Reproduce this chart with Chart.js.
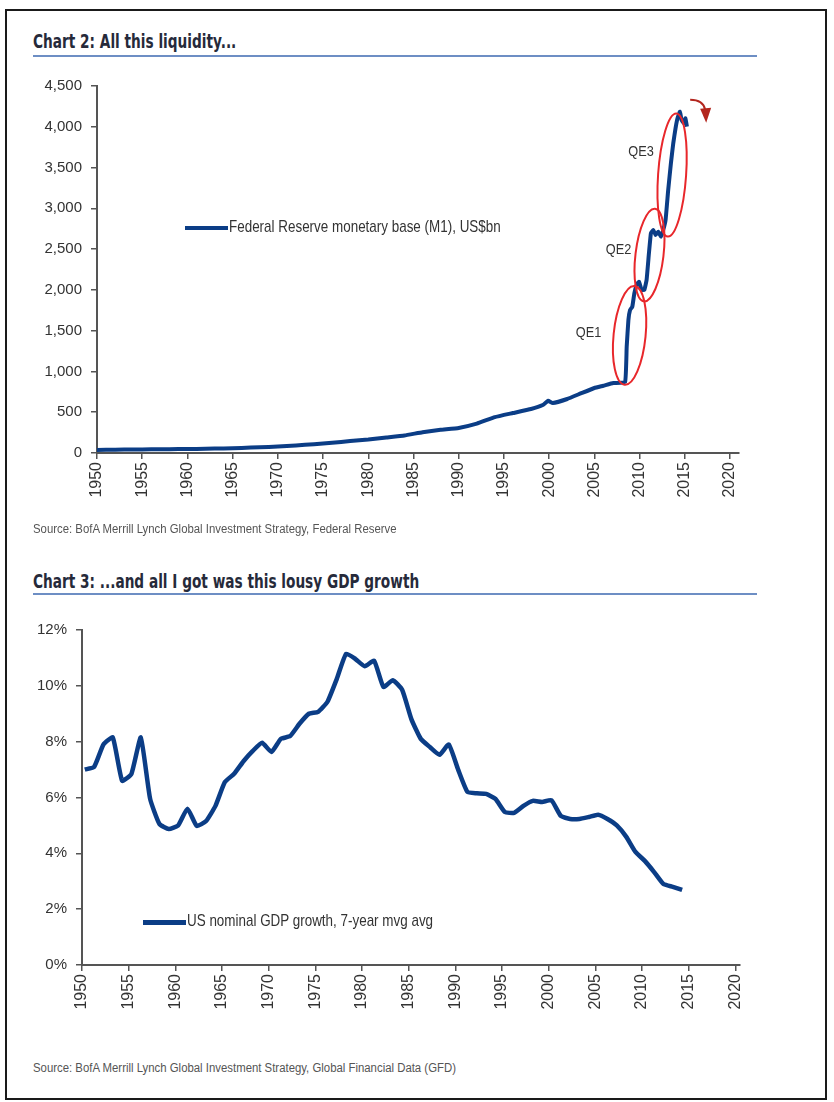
<!DOCTYPE html>
<html>
<head>
<meta charset="utf-8">
<script src="https://cdn.jsdelivr.net/npm/chart.js@4"></script>
<style>
  body { margin: 0; background: #fff; }
  #page { position: relative; width: 834px; height: 1102px; overflow: hidden; background: #fff; }
  .frame { position: absolute; left: 5px; top: 9px; width: 822px; height: 1091px; box-sizing: border-box; border: 2px solid #1a1a1a; }
  .title { position: absolute; left: 33px; font-family: "DejaVu Sans", sans-serif; font-weight: bold; font-size: 19px; color: #262a3a; white-space: nowrap; transform: scaleX(0.72); transform-origin: left center; }
  .rule { position: absolute; left: 33px; width: 724px; height: 2px; background: #6d8ec4; }
  .source { position: absolute; left: 33px; font-family: "Liberation Sans", sans-serif; font-size: 12.5px; color: #555; white-space: nowrap; transform: scaleX(0.91); transform-origin: left center; }
  .legend { position: absolute; font-family: "Liberation Sans", sans-serif; font-size: 17px; color: #333; white-space: nowrap; }
  .legend .swatch { position: absolute; height: 4px; background: #0b3d86; }
  .legend .text { position: absolute; left: 44px; top: 0; transform: scaleX(0.79); transform-origin: left center; }
  canvas { position: absolute; left: 0; }
</style>
</head>
<body>
<div id="page">
  <div class="frame"></div>

  <div class="title" style="top:30px">Chart 2: All this liquidity...</div>
  <div class="rule" style="top:55px"></div>
  <canvas id="base" width="780" height="470" style="top:60px"></canvas>
  <div class="legend" style="left:185px; top:217px">
    <span class="swatch" style="left:0; top:9px; width:43px"></span>
    <span class="text">Federal Reserve monetary base (M1), US$bn</span>
  </div>
  <div class="source" style="top:522px">Source: BofA Merrill Lynch Global Investment Strategy, Federal Reserve</div>

  <div class="title" style="top:570px">Chart 3: ...and all I got was this lousy GDP growth</div>
  <div class="rule" style="top:593px"></div>
  <canvas id="gdp" width="780" height="440" style="top:600px"></canvas>
  <div class="legend" style="left:143px; top:911px">
    <span class="swatch" style="left:0; top:9px; width:43px; height:5px"></span>
    <span class="text">US nominal GDP growth, 7-year mvg avg</span>
  </div>
  <div class="source" style="top:1061px">Source: BofA Merrill Lynch Global Investment Strategy, Global Financial Data (GFD)</div>
</div>

<script>
// Chart 2: Federal Reserve monetary base, US$bn (decimal years)
const baseYears = [
  1950, 1952, 1954, 1956, 1958, 1960, 1962, 1964, 1966, 1968,
  1970, 1972, 1974, 1976, 1978, 1980, 1982, 1984, 1986, 1988,
  1990, 1992, 1994, 1996, 1998, 1999.3, 1999.9, 2000.4, 2002, 2003.5,
  2005, 2006, 2007.1, 2008.4,
  2008.58, 2008.77, 2008.95, 2009.2, 2009.43, 2009.68, 2009.94, 2010.23, 2010.53, 2010.78,
  2011.04, 2011.26, 2011.52, 2011.78, 2012.07, 2012.37, 2012.62, 2012.88, 2013.17, 2013.47,
  2013.73, 2013.98, 2014.2, 2014.47, 2014.65, 2014.91, 2015.08, 2015.24
];
const baseValues = [
  38, 41, 43, 45, 47, 49, 52, 56, 62, 70,
  80, 93, 108, 125, 147, 165, 190, 215, 255, 285,
  307, 360, 440, 490, 540, 588, 640, 613, 662, 730,
  797, 825, 858, 870,
  1304, 1631, 1753, 1794, 1961, 2060, 2100, 2000, 2000, 2121,
  2450, 2697, 2734, 2673, 2713, 2652, 2734, 2857, 3225, 3552,
  3797, 3981, 4104, 4185, 4083, 4043, 4104, 4001
];

// QE episodes: name, centre year, bottom and top of the circled move (US$bn)
const qeNames = ['QE1', 'QE2', 'QE3'];
const qeYears = [2008.9, 2011.1, 2013.6];
const qeLow = [834, 1855, 2652];
const qeHigh = [2051, 3000, 4165];

// Chart 3: US nominal GDP growth, 7-year moving average (%)
const gdpYears = [
  1950, 1951, 1952, 1953, 1954, 1955, 1956, 1957, 1958, 1959,
  1960, 1961, 1962, 1963, 1964, 1965, 1966, 1967, 1968, 1969,
  1970, 1971, 1972, 1973, 1974, 1975, 1976, 1977, 1978, 1979,
  1980, 1981, 1982, 1983, 1984, 1985, 1986, 1987, 1988, 1989,
  1990, 1991, 1992, 1993, 1994, 1995, 1996, 1997, 1998, 1999,
  2000, 2001, 2002, 2003, 2004, 2005, 2006, 2007, 2008, 2009,
  2010, 2011, 2012, 2013, 2014
];
const gdpValues = [
  7.0, 7.1, 7.9, 8.15, 6.6, 6.85, 8.15, 5.95, 5.05, 4.87,
  5.0, 5.6, 4.98, 5.16, 5.7, 6.55, 6.85, 7.3, 7.67, 7.96,
  7.63, 8.1, 8.2, 8.64, 9.0, 9.07, 9.43, 10.25, 11.15, 10.96,
  10.7, 10.9, 9.96, 10.2, 9.86, 8.8, 8.1, 7.8, 7.53, 7.9,
  7.0, 6.2, 6.15, 6.13, 5.95, 5.48, 5.45, 5.7, 5.88, 5.84,
  5.9, 5.34, 5.23, 5.23, 5.3, 5.38, 5.23, 5.0, 4.6, 4.05,
  3.73, 3.33, 2.9, 2.8, 2.69
];

const navy = '#0b3d86';
const axisGrey = '#555';
const tickFontX = { family: 'Liberation Sans, Arial, sans-serif', size: 16 };
const tickFontY = { family: 'Liberation Sans, Arial, sans-serif', size: 15 };

function xAxis(max, height) {
  return {
    type: 'linear', min: 1950, max: max,
    ticks: { stepSize: 5, includeBounds: false, minRotation: 90, maxRotation: 90, autoSkip: false,
             padding: 3, color: '#333', font: tickFontX, callback: v => String(v) },
    grid: { drawOnChartArea: false, drawTicks: true, tickLength: 6, color: axisGrey, lineWidth: 1.5 },
    border: { color: axisGrey, width: 2 },
    afterFit: s => { s.height = height; }
  };
}

function yAxis(max, step, fmt, width) {
  return {
    min: 0, max: max,
    ticks: { stepSize: step, padding: 9, color: '#333', font: tickFontY, callback: fmt },
    grid: { drawOnChartArea: false, drawTicks: true, tickLength: 6, color: axisGrey, lineWidth: 1.5 },
    border: { color: axisGrey, width: 2 },
    afterFit: s => { s.width = width; }
  };
}

// red ellipses, QE labels and the turning arrow
const qePlugin = {
  id: 'qeMarks',
  afterDatasetsDraw(chart) {
    const { ctx, scales: { x, y } } = chart;
    ctx.save();
    ctx.strokeStyle = '#e8272b';
    ctx.lineWidth = 2;
    ctx.font = '15px "Liberation Sans", sans-serif';
    ctx.fillStyle = '#333';
    ctx.textAlign = 'center';
    ctx.textBaseline = 'middle';
    const rx = [16, 14, 14];
    const tilt = [0.1, 0.12, 0.07];
    qeNames.forEach((name, i) => {
      const cx = x.getPixelForValue(qeYears[i]);
      const yLo = y.getPixelForValue(qeLow[i]);
      const yHi = y.getPixelForValue(qeHigh[i]);
      const cy = (yLo + yHi) / 2;
      const ry = (yLo - yHi) / 2;
      ctx.beginPath();
      ctx.ellipse(cx, cy, rx[i], ry, tilt[i], 0, Math.PI * 2);
      ctx.stroke();
      const lx = cx - (i === 0 ? 41 : 31);
      const ly = i === 2 ? cy - 23 : cy - (i === 1 ? 5 : 2);
      ctx.save();
      ctx.translate(lx, ly);
      ctx.scale(0.85, 1);
      ctx.fillText(name, 0, 0);
      ctx.restore();
    });
    // curved arrow after the peak
    const ax = x.getPixelForValue(2015.6), ay = y.getPixelForValue(4330);
    ctx.strokeStyle = '#b3261e';
    ctx.fillStyle = '#b3261e';
    ctx.lineWidth = 2;
    ctx.beginPath();
    ctx.moveTo(ax, ay);
    ctx.quadraticCurveTo(ax + 13, ay, ax + 15, ay + 10);
    ctx.stroke();
    ctx.beginPath();
    ctx.moveTo(ax + 10, ay + 9);
    ctx.lineTo(ax + 21, ay + 8);
    ctx.lineTo(ax + 16, ay + 23);
    ctx.closePath();
    ctx.fill();
    ctx.restore();
  }
};

new Chart(document.getElementById('base'), {
  type: 'line',
  data: {
    datasets: [{
      label: 'Federal Reserve monetary base (M1), US$bn',
      data: baseYears.map((t, i) => ({ x: t, y: baseValues[i] })),
      borderColor: navy, borderWidth: 4, pointRadius: 0, tension: 0.1, fill: false
    }]
  },
  options: {
    responsive: false, animation: false,
    layout: { padding: { top: 26, right: 41, left: 0, bottom: 0 } },
    plugins: { legend: { display: false }, tooltip: { enabled: false } },
    scales: {
      x: xAxis(2021, 77),
      y: yAxis(4500, 500, v => v.toLocaleString('en-US'), 97)
    }
  },
  plugins: [qePlugin]
});

new Chart(document.getElementById('gdp'), {
  type: 'line',
  data: {
    datasets: [{
      label: 'US nominal GDP growth, 7-year mvg avg',
      // annual values plotted a little into each year
      data: gdpYears.map((t, i) => ({ x: t + 0.3, y: gdpValues[i] })),
      borderColor: navy, borderWidth: 4.5, pointRadius: 0, tension: 0.15, fill: false
    }]
  },
  options: {
    responsive: false, animation: false,
    layout: { padding: { top: 30, right: 40, left: 0, bottom: 0 } },
    plugins: { legend: { display: false }, tooltip: { enabled: false } },
    scales: {
      x: xAxis(2020.5, 75),
      y: yAxis(12, 2, v => v + '%', 82)
    }
  }
});
</script>
</body>
</html>
